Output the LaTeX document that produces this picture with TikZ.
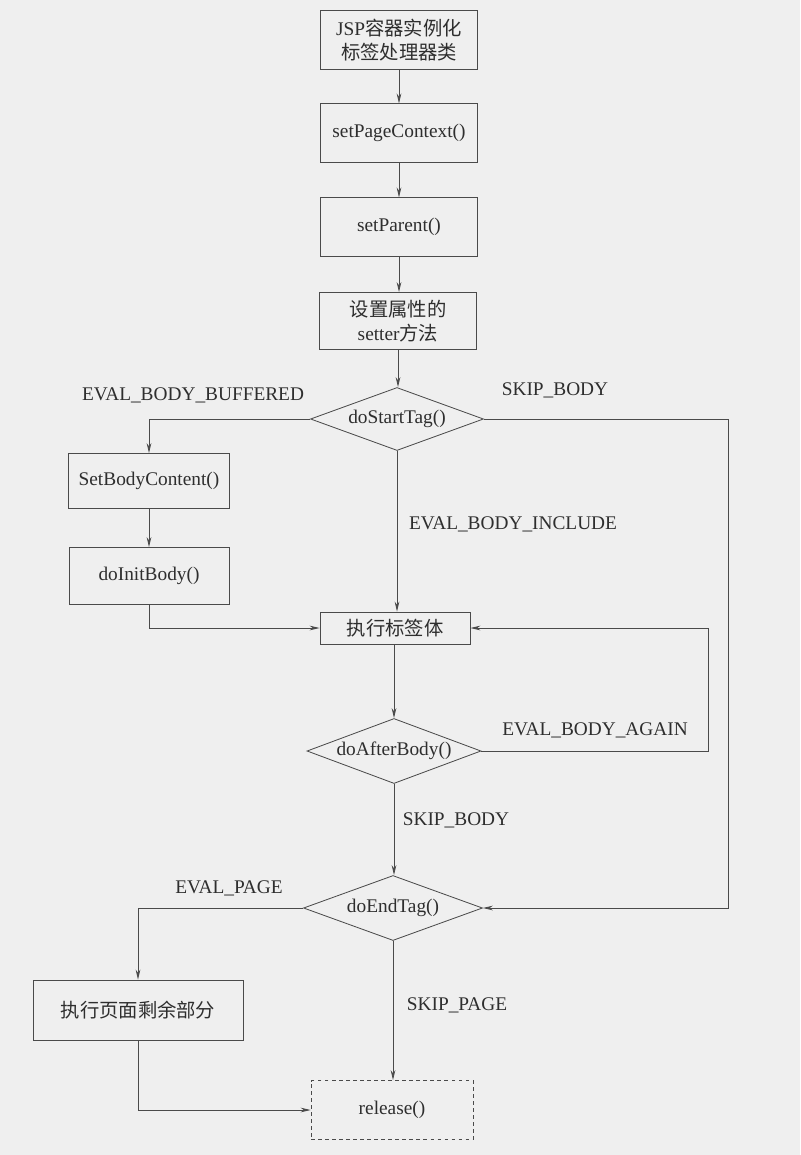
\documentclass[tikz,border=0pt]{standalone}
\usepackage{fontspec}
\setmainfont{Liberation Serif}
\newfontfamily\cjk{Noto Sans CJK SC}
\usepackage{tikz}
\usetikzlibrary{shapes.geometric, arrows.meta, positioning}
\definecolor{paper}{HTML}{EFEFEF}
\definecolor{linec}{HTML}{4A4A4A}
\definecolor{ink}{HTML}{2E2E2E}

\begin{document}
\begin{tikzpicture}[
    x=0.03cm, y=-0.03cm,
    every node/.style={font=\fontsize{16.5}{20}\selectfont, text=ink},
    box/.style={draw=linec, fill=paper, line width=0.7pt, inner sep=2pt,
                minimum width=4.7cm, minimum height=1.75cm, align=center},
    dec/.style={diamond, draw=linec, fill=paper, line width=0.7pt, inner sep=0pt,
                aspect=2.7, minimum width=5.2cm, minimum height=1.92cm},
    lbl/.style={inner sep=1pt},
    arr/.style={-{Stealth[length=3mm, width=1.4mm]}, draw=linec, line width=0.7pt}
]
    \useasboundingbox[fill=paper] (0,0) rectangle (800,1155);

    % Main column
    \node[box] (inst) at (399, 40) {JSP{\cjk 容器实例化}\\{\cjk 标签处理器类}};
    \node[box] (ctx)  at (399, 133) {setPageContext()};
    \node[box] (par)  at (399, 227) {setParent()};
    \node[box, minimum height=1.71cm] (attr) at (398, 321) {{\cjk 设置属性的}\\setter{\cjk 方法}};
    \node[dec, minimum width=5.19cm, minimum height=1.89cm] (start) at (397, 419) {doStartTag()};

    % Buffered branch
    \node[box, minimum width=4.83cm, minimum height=1.65cm] (setbody)  at (149, 481) {SetBodyContent()};
    \node[box, minimum width=4.8cm, minimum height=1.71cm]  (initbody) at (149, 576) {doInitBody()};

    % Body and the loop
    \node[box, minimum width=4.5cm, minimum height=0.96cm] (body) at (395, 628) {\cjk 执行标签体};
    \node[dec, minimum width=5.22cm, minimum height=1.95cm] (after) at (394, 751) {doAfterBody()};
    \node[dec, minimum width=5.37cm, minimum height=1.95cm] (endtag) at (393, 908) {doEndTag()};

    % End of page
    \node[box, minimum width=6.3cm, minimum height=1.8cm] (rest) at (138, 1010) {\cjk 执行页面剩余部分};
    \node[box, dashed, minimum width=4.86cm, minimum height=1.77cm] (rel) at (392, 1110) {release()};

    \coordinate (skipr)  at (728, 419);
    \coordinate (againr) at (708, 751);

    \draw[arr] (inst) -- (ctx);
    \draw[arr] (ctx) -- (par);
    \draw[arr] (par.south) -- (par.south |- attr.north);
    \draw[arr] (attr.south) -- (attr.south |- start.north);
    \draw[arr] (start.west) -| (setbody.north);
    \draw[arr] (setbody) -- (initbody);
    \draw[arr] (initbody.south) |- (body.west);
    \draw[arr] (start.south) -- (start.south |- body.north);
    \draw[arr] (start.east) -- (skipr) |- (endtag.east);
    \draw[arr] (body.south -| after.north) -- (after.north);
    \draw[arr] (after.east) -- (againr) |- (body.east);
    \draw[arr] (after.south) -- (after.south |- endtag.north);
    \draw[arr] (endtag.west) -| (rest.north);
    \draw[arr] (rest.south) |- (rel.west);
    \draw[arr] (endtag.south) -- (endtag.south |- rel.north);

    % Return values
    \node[lbl] (lbuf)   at (193, 395)  {EVAL\_BODY\_BUFFERED};
    \node[lbl] (lskip)  at (555, 390)  {SKIP\_BODY};
    \node[lbl] (lincl)  at (513, 524)  {EVAL\_BODY\_INCLUDE};
    \node[lbl] (lagain) at (595, 730)  {EVAL\_BODY\_AGAIN};
    \node[lbl] (lskip2) at (456, 820)  {SKIP\_BODY};
    \node[lbl] (leval)  at (229, 888)  {EVAL\_PAGE};
    \node[lbl] (lpage)  at (457, 1005) {SKIP\_PAGE};
\end{tikzpicture}
\end{document}
